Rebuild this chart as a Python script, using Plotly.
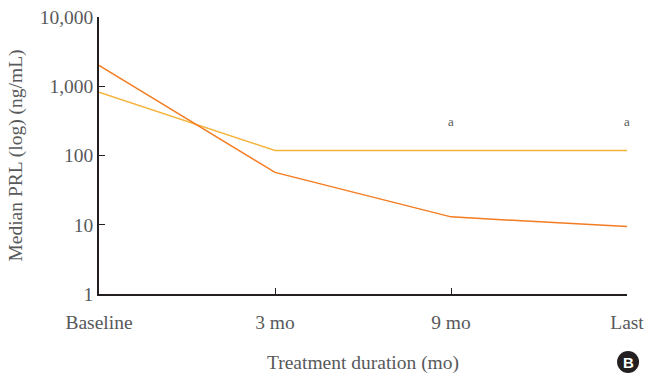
import math
import plotly.graph_objects as go

categories = ["Baseline", "3 mo", "9 mo", "Last"]
series_orange = [2000, 57, 13, 9.4]
series_yellow = [820, 118, 118, 118]
y_tickvals = [1, 10, 100, 1000, 10000]
y_ticktext = ["1", "10", "100", "1,000", "10,000"]
sig_x = ["9 mo", "Last"]
sig_label = "a"
sig_y = 310

FONT = "Liberation Serif, Times New Roman, serif"
GRAY = "#58595b"
FS = 19.5

fig = go.Figure()
fig.add_trace(go.Scatter(x=categories, y=series_yellow, mode="lines",
                         line=dict(color="#f4b33b", width=1.5), showlegend=False))
fig.add_trace(go.Scatter(x=categories, y=series_orange, mode="lines",
                         line=dict(color="#f47c20", width=1.5), showlegend=False))

for sx in sig_x:
    fig.add_annotation(x=sx, y=math.log10(sig_y), text=sig_label,
                       showarrow=False, font=dict(family=FONT, size=13, color=GRAY))

fig.add_shape(type="circle", xref="paper", yref="paper", layer="below",
              xsizemode="pixel", ysizemode="pixel",
              xanchor=1.002, yanchor=-0.2455,
              x0=-11, x1=11, y0=-11, y1=11,
              fillcolor="#231f20", line=dict(color="#231f20", width=0))
fig.add_annotation(xref="paper", yref="paper", x=1.002, y=-0.2455,
                   xanchor="center", yanchor="middle", text="<b>B</b>",
                   showarrow=False, font=dict(family="Liberation Sans, Arial", size=15, color="white"))

fig.update_layout(
    width=646, height=375,
    margin=dict(l=99, r=19, t=17, b=81, autoexpand=False),
    paper_bgcolor="white", plot_bgcolor="white",
    font=dict(family=FONT, size=FS, color=GRAY),
    xaxis=dict(type="category", range=[0, 3], showgrid=False, zeroline=False,
               automargin=False,
               showline=True, linecolor="#231f20", linewidth=1.5,
               ticks="inside", ticklen=6, tickcolor="#231f20", tickwidth=1.2,
               ticklabelstandoff=10,
               tickfont=dict(family=FONT, size=FS, color=GRAY),
               title=dict(text="Treatment duration (mo)", standoff=23,
                          font=dict(family=FONT, size=FS, color=GRAY))),
    yaxis=dict(type="log", range=[0, 4], showgrid=False, zeroline=False,
               automargin=False,
               showline=True, linecolor="#231f20", linewidth=1.5,
               ticks="inside", ticklen=6, tickcolor="#231f20", tickwidth=1.2,
               tickvals=y_tickvals, ticktext=y_ticktext,
               tickfont=dict(family=FONT, size=FS, color=GRAY),
               title=dict(text="Median PRL (log) (ng/mL)", standoff=12,
                          font=dict(family=FONT, size=FS, color=GRAY))),
)

fig.write_html("out.html", config={"displayModeBar": False},
               post_script="document.body.style.margin='0';document.body.style.overflow='hidden';")
